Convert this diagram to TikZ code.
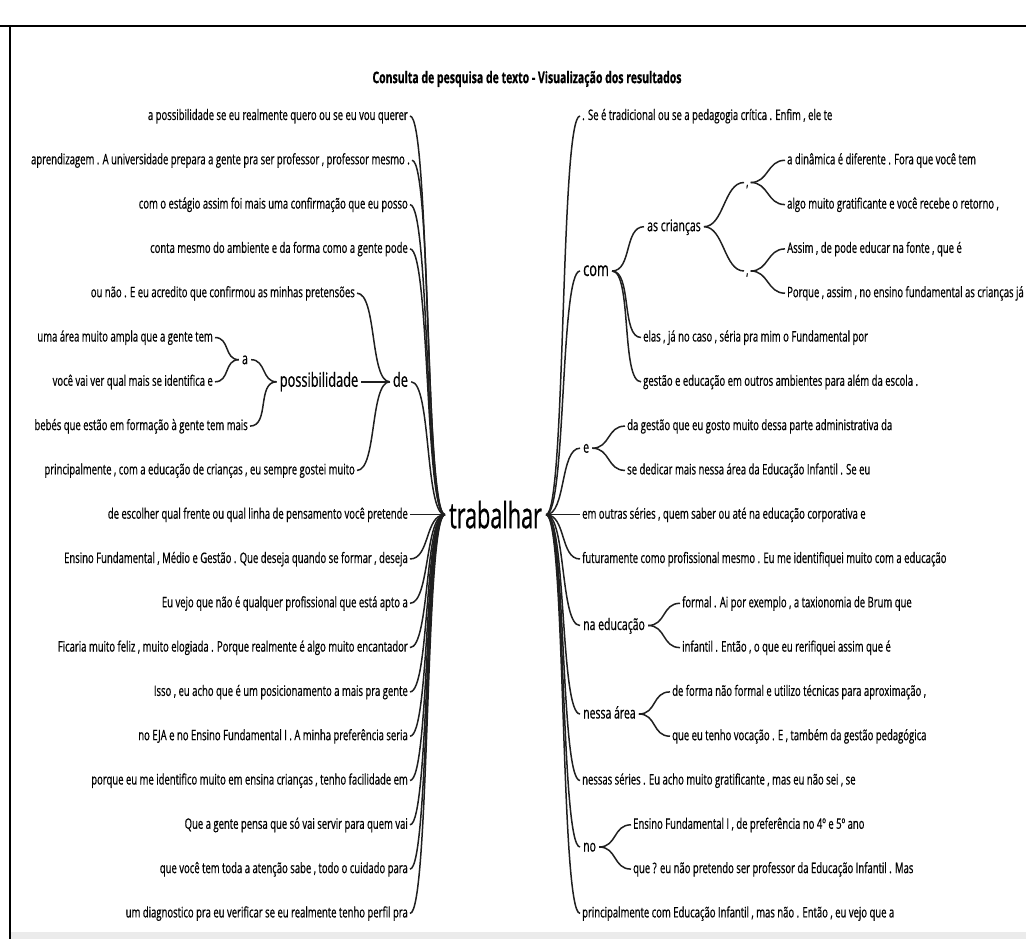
\documentclass[tikz,border=0pt]{standalone}
\usepackage{fontspec}
\setmainfont{Open Sans}[FakeStretch=0.655,FakeBold=0.6]
\newfontfamily\rootfont{Open Sans}[FakeStretch=0.6,FakeBold=0.6]
\usetikzlibrary{positioning}

\begin{document}
\begin{tikzpicture}[
      x=1pt, y=-1pt,
      leaf/.style={
        inner sep=2pt,
        text height=11pt,
        text depth=3pt,
        font=\fontsize{14.5}{17}\selectfont
      },
      leafL/.style={leaf, anchor=east},
      leafR/.style={leaf, anchor=west},
      word/.style={
        inner sep=3pt,
        text height=12pt,
        text depth=3pt,
        font=\fontsize{16}{19}\selectfont
      },
      wordbig/.style={
        word,
        text height=14pt,
        text depth=4pt,
        font=\fontsize{19.5}{22}\selectfont
      },
      root/.style={
        inner sep=4pt,
        font=\rootfont\fontsize{36}{40}\selectfont
      },
      link/.style={line width=1.5pt, draw=black!88},
      frame/.style={line width=2pt, draw=black}
    ]
    \useasboundingbox (0,0) rectangle (1026,939);
    \draw[frame] (0,26) -- (1026,26);
    \draw[frame] (10,26) -- (10,939);
    \fill[black!8] (11,932) rectangle (1026,939);

    \node[font=\bfseries\fontsize{16}{19}\selectfont] (title) at (527,79)
    {Consulta de pesquisa de texto - Visualização dos resultados};

    \node[root] (trab) at (495.5,514.7) {trabalhar};

    % left side
    \node[leafL] (l1) at (410,116) {a possibilidade se eu realmente quero ou se eu vou querer};
    \node[leafL] (l2) at (412,160.3) {aprendizagem . A universidade prepara a gente pra ser professor , professor mesmo .};
    \node[leafL] (l3) at (410,204.6) {com o estágio assim foi mais uma confirmação que eu posso};
    \node[leafL] (l4) at (410,248.9) {conta mesmo do ambiente e da forma como a gente pode};
    \node[leafL] (l5) at (357,293.2) {ou não . E eu acredito que confirmou as minhas pretensões};
    \node[leafL] (l6) at (215,337.5) {uma área muito ampla que a gente tem};
    \node[leafL] (l7) at (215,381.8) {você vai ver qual mais se identifica e};
    \node[leafL] (l8) at (250,426.1) {bebés que estão em formação à gente tem mais};
    \node[leafL] (l9) at (357,470.4) {principalmente , com a educação de crianças , eu sempre gostei muito};
    \node[leafL] (l10) at (410,514.7) {de escolher qual frente ou qual linha de pensamento você pretende};
    \node[leafL] (l11) at (410,559) {Ensino Fundamental , Médio e Gestão . Que deseja quando se formar , deseja};
    \node[leafL] (l12) at (410,603.3) {Eu vejo que não é qualquer profissional que está apto a};
    \node[leafL] (l13) at (410,647.6) {Ficaria muito feliz , muito elogiada . Porque realmente é algo muito encantador};
    \node[leafL] (l14) at (410,691.9) {Isso , eu acho que é um posicionamento a mais pra gente};
    \node[leafL] (l15) at (410,736.2) {no EJA e no Ensino Fundamental I . A minha preferência seria};
    \node[leafL] (l16) at (410,780.5) {porque eu me identifico muito em ensina crianças , tenho facilidade em};
    \node[leafL] (l17) at (410,824.8) {Que a gente pensa que só vai servir para quem vai};
    \node[leafL] (l18) at (410,869.1) {que você tem toda a atenção sabe , todo o cuidado para};
    \node[leafL] (l19) at (410,913.4) {um diagnostico pra eu verificar se eu realmente tenho perfil pra};

    \node[word, anchor=center] (a) at (245,359.7) {a};
    \node[wordbig, anchor=center] (possib) at (319,381.8) {possibilidade};
    \node[wordbig, anchor=center] (de) at (400.5,381.8) {de};

    % right side
    \node[leafR] (r1) at (580,116) {. Se é tradicional ou se a pedagogia crítica . Enfim , ele te};
    \node[wordbig, anchor=west] (com) at (580,271) {com};
    \node[word, anchor=west] (crian) at (644,226.7) {as crianças};
    \node[leaf, anchor=west] (vA) at (744,182.5) {,};
    \node[leaf, anchor=west] (vB) at (744,271) {,};
    \node[leafR] (r2) at (785,160.3) {a dinâmica é diferente . Fora que você tem};
    \node[leafR] (r3) at (785,204.6) {algo muito gratificante e você recebe o retorno ,};
    \node[leafR] (r4) at (785,248.9) {Assim , de pode educar na fonte , que é};
    \node[leafR] (r5) at (785,293.2) {Porque , assim , no ensino fundamental as crianças já};
    \node[leafR] (r6) at (641,337.5) {elas , já no caso , séria pra mim o Fundamental por};
    \node[leafR] (r7) at (641,381.8) {gestão e educação em outros ambientes para além da escola .};
    \node[word, anchor=west] (e) at (580,448.2) {e};
    \node[leafR] (r8) at (625,426.1) {da gestão que eu gosto muito dessa parte administrativa da};
    \node[leafR] (r9) at (625,470.4) {se dedicar mais nessa área da Educação Infantil . Se eu};
    \node[leafR] (r10) at (580,514.7) {em outras séries , quem saber ou até na educação corporativa e};
    \node[leafR] (r11) at (580,559) {futuramente como profissional mesmo . Eu me identifiquei muito com a educação};
    \node[word, anchor=west] (naedu) at (580,625.5) {na educação};
    \node[leafR] (r12) at (680,603.3) {formal . Ai por exemplo , a taxionomia de Brum que};
    \node[leafR] (r13) at (680,647.6) {infantil . Então , o que eu rerifiquei assim que é};
    \node[word, anchor=west] (nessa) at (580,714) {nessa área};
    \node[leafR] (r14) at (670,691.9) {de forma não formal e utilizo técnicas para aproximação ,};
    \node[leafR] (r15) at (670,736.2) {que eu tenho vocação . E , também da gestão pedagógica};
    \node[leafR] (r16) at (580,780.5) {nessas séries . Eu acho muito gratificante , mas eu não sei , se};
    \node[word, anchor=west] (no) at (580,847) {no};
    \node[leafR] (r17) at (631,824.8) {Ensino Fundamental I , de preferência no 4º e 5º ano};
    \node[leafR] (r18) at (631,869.1) {que ? eu não pretendo ser professor da Educação Infantil . Mas};
    \node[leafR] (r19) at (580,913.4) {principalmente com Educação Infantil , mas não . Então , eu vejo que a};

    % links, left
    \draw[link] (l1.east) .. controls +(20,0) and +(-20,0) .. (trab.west);
    \draw[link] (l2.east) .. controls +(20,0) and +(-20,0) .. (trab.west);
    \draw[link] (l3.east) .. controls +(20,0) and +(-20,0) .. (trab.west);
    \draw[link] (l4.east) .. controls +(20,0) and +(-20,0) .. (trab.west);
    \draw[link] (l5.east) .. controls +(20,0) and +(-20,0) .. (de.west);
    \draw[link] (l6.east) .. controls +(15,0) and +(-15,0) .. (a.west);
    \draw[link] (l7.east) .. controls +(15,0) and +(-15,0) .. (a.west);
    \draw[link] (a.east) .. controls +(15,0) and +(-15,0) .. (possib.west);
    \draw[link] (l8.east) .. controls +(20,0) and +(-20,0) .. (possib.west);
    \draw[link] (possib.east) .. controls +(12,0) and +(-12,0) .. (de.west);
    \draw[link] (l9.east) .. controls +(20,0) and +(-20,0) .. (de.west);
    \draw[link] (de.east) .. controls +(20,0) and +(-20,0) .. (trab.west);
    \draw[link] (l10.east) .. controls +(20,0) and +(-20,0) .. (trab.west);
    \draw[link] (l11.east) .. controls +(20,0) and +(-20,0) .. (trab.west);
    \draw[link] (l12.east) .. controls +(20,0) and +(-20,0) .. (trab.west);
    \draw[link] (l13.east) .. controls +(20,0) and +(-20,0) .. (trab.west);
    \draw[link] (l14.east) .. controls +(20,0) and +(-20,0) .. (trab.west);
    \draw[link] (l15.east) .. controls +(20,0) and +(-20,0) .. (trab.west);
    \draw[link] (l16.east) .. controls +(20,0) and +(-20,0) .. (trab.west);
    \draw[link] (l17.east) .. controls +(20,0) and +(-20,0) .. (trab.west);
    \draw[link] (l18.east) .. controls +(20,0) and +(-20,0) .. (trab.west);
    \draw[link] (l19.east) .. controls +(20,0) and +(-20,0) .. (trab.west);

    % links, right
    \draw[link] (trab.east) .. controls +(20,0) and +(-20,0) .. (r1.west);
    \draw[link] (trab.east) .. controls +(20,0) and +(-20,0) .. (com.west);
    \draw[link] (com.east) .. controls +(20,0) and +(-20,0) .. (crian.west);
    \draw[link] (crian.east) .. controls +(20,0) and +(-20,0) .. (vA.west);
    \draw[link] (crian.east) .. controls +(20,0) and +(-20,0) .. (vB.west);
    \draw[link] (vA.east) .. controls +(18,0) and +(-18,0) .. (r2.west);
    \draw[link] (vA.east) .. controls +(18,0) and +(-18,0) .. (r3.west);
    \draw[link] (vB.east) .. controls +(18,0) and +(-18,0) .. (r4.west);
    \draw[link] (vB.east) .. controls +(18,0) and +(-18,0) .. (r5.west);
    \draw[link] (com.east) .. controls +(20,0) and +(-20,0) .. (r6.west);
    \draw[link] (com.east) .. controls +(20,0) and +(-20,0) .. (r7.west);
    \draw[link] (trab.east) .. controls +(20,0) and +(-20,0) .. (e.west);
    \draw[link] (e.east) .. controls +(18,0) and +(-18,0) .. (r8.west);
    \draw[link] (e.east) .. controls +(18,0) and +(-18,0) .. (r9.west);
    \draw[link] (trab.east) .. controls +(20,0) and +(-20,0) .. (r10.west);
    \draw[link] (trab.east) .. controls +(20,0) and +(-20,0) .. (r11.west);
    \draw[link] (trab.east) .. controls +(20,0) and +(-20,0) .. (naedu.west);
    \draw[link] (naedu.east) .. controls +(18,0) and +(-18,0) .. (r12.west);
    \draw[link] (naedu.east) .. controls +(18,0) and +(-18,0) .. (r13.west);
    \draw[link] (trab.east) .. controls +(20,0) and +(-20,0) .. (nessa.west);
    \draw[link] (nessa.east) .. controls +(18,0) and +(-18,0) .. (r14.west);
    \draw[link] (nessa.east) .. controls +(18,0) and +(-18,0) .. (r15.west);
    \draw[link] (trab.east) .. controls +(20,0) and +(-20,0) .. (r16.west);
    \draw[link] (trab.east) .. controls +(20,0) and +(-20,0) .. (no.west);
    \draw[link] (no.east) .. controls +(18,0) and +(-18,0) .. (r17.west);
    \draw[link] (no.east) .. controls +(18,0) and +(-18,0) .. (r18.west);
    \draw[link] (trab.east) .. controls +(20,0) and +(-20,0) .. (r19.west);
\end{tikzpicture}
\end{document}
